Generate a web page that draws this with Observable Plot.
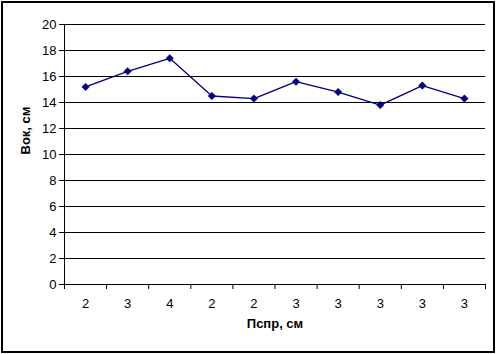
<!DOCTYPE html>
<html>
<head>
<meta charset="utf-8">
<script src="https://cdn.jsdelivr.net/npm/d3@7"></script>
<script src="https://cdn.jsdelivr.net/npm/@observablehq/plot@0.6"></script>
<style>
  html, body { margin: 0; padding: 0; background: #fff; }
  svg { display: block; outline: 2px solid #000; outline-offset: -3px; }
</style>
</head>
<body>
<div id="chart"></div>
<script>
const categories = ["2", "3", "4", "2", "2", "3", "3", "3", "3", "3"];
const values = [15.2, 16.4, 17.4, 14.5, 14.3, 15.6, 14.8, 13.8, 15.3, 14.3];
const yTicks = [0, 2, 4, 6, 8, 10, 12, 14, 16, 18, 20];
const yTitle = "Вок, см";
const xTitle = "Пспр, см";

const data = categories.map((label, i) => ({ pos: i + 0.5, label, value: values[i] }));
const boundaries = d3.range(categories.length + 1);

const chart = Plot.plot({
  width: 496,
  height: 354,
  marginLeft: 64,
  marginRight: 11,
  marginTop: 24,
  marginBottom: 70,
  style: { fontFamily: "'Liberation Sans', Arial, sans-serif", fontSize: "13px", color: "#000", background: "#fff" },
  x: { domain: [0, categories.length], axis: null },
  y: { domain: [0, 20], axis: null },
  marks: [
    Plot.ruleY(yTicks.filter(t => t > 0), { stroke: "#000", strokeWidth: 1 }),
    Plot.ruleY([0], { stroke: "#000", strokeWidth: 1 }),
    Plot.ruleX([0], { stroke: "#000", strokeWidth: 1 }),
    Plot.axisY({ ticks: yTicks, tickSize: 5, tickPadding: 3, fontSize: 13, label: null, tickFormat: d => String(d) }),
    Plot.axisX({ ticks: boundaries, tickSize: 5, tickFormat: () => "", label: null }),
    Plot.text(data, { x: "pos", y: 0, text: "label", dy: 19, fontSize: 13 }),
    Plot.line(data, { x: "pos", y: "value", stroke: "#000080", strokeWidth: 1.3 }),
    Plot.dot(data, { x: "pos", y: "value", symbol: "diamond2", fill: "#000080", stroke: "#000080", strokeWidth: 0.5, r: 3.4 }),
    Plot.text([yTitle], { frameAnchor: "left", dx: -39, rotate: -90, fontWeight: "bold", fontSize: 13 }),
    Plot.text([xTitle], { frameAnchor: "bottom", dy: 43, fontWeight: "bold", fontSize: 13 })
  ]
});
document.getElementById("chart").append(chart);
</script>
</body>
</html>
